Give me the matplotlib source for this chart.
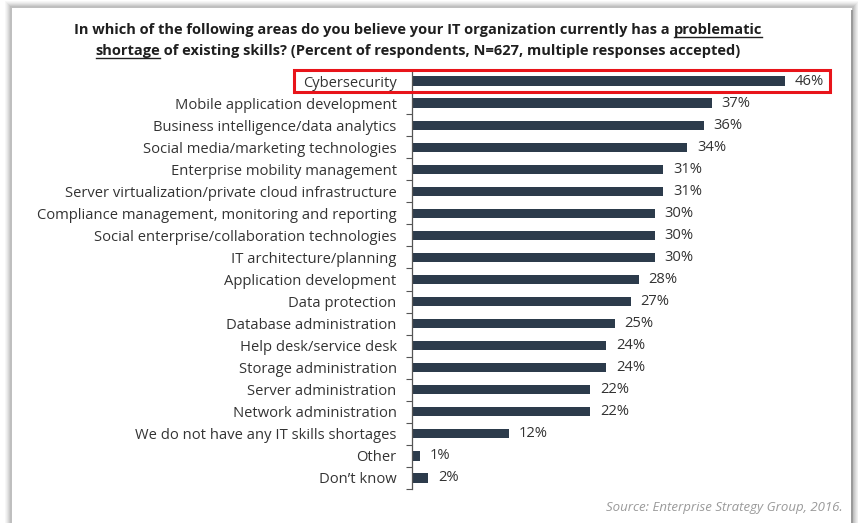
import matplotlib.pyplot as plt
from matplotlib.patches import Rectangle
from matplotlib.transforms import blended_transform_factory

categories = [
    "Cybersecurity",
    "Mobile application development",
    "Business intelligence/data analytics",
    "Social media/marketing technologies",
    "Enterprise mobility management",
    "Server virtualization/private cloud infrastructure",
    "Compliance management, monitoring and reporting",
    "Social enterprise/collaboration technologies",
    "IT architecture/planning",
    "Application development",
    "Data protection",
    "Database administration",
    "Help desk/service desk",
    "Storage administration",
    "Server administration",
    "Network administration",
    "We do not have any IT skills shortages",
    "Other",
    "Don\u2019t know",
]
percents = [46, 37, 36, 34, 31, 31, 30, 30, 30, 28, 27, 25, 24, 24, 22, 22, 12, 1, 2]

title_line1 = ["In which of the following areas do you believe your IT organization currently has a ", "problematic"]
title_line2 = ["shortage", " of existing skills? (Percent of respondents, N=627, multiple responses accepted)"]
source_note = "Source: Enterprise Strategy Group, 2016."

FONT = "Open Sans"
BAR_COLOR = "#2c3b4b"
TEXT_COLOR = "#333333"

W, H = 858, 523
fig = plt.figure(figsize=(W / 100, H / 100), dpi=100)
fig.patch.set_facecolor("white")


def px(x, y):
    # pixel position measured from the top-left corner -> figure fraction
    return x / W, 1 - y / H


# soft drop shadow and card
for i, a in enumerate([0.05, 0.06, 0.08, 0.10, 0.12, 0.14]):
    g = 7 - i
    fig.patches.append(Rectangle(px(12 - g, H), (840 + 2 * g) / W, (H - 8 + g) / H,
                                 transform=fig.transFigure, facecolor="#707070",
                                 alpha=a, edgecolor="none", zorder=0))
fig.patches.append(Rectangle(px(12, H), 840 / W, (H - 8) / H, transform=fig.transFigure,
                             facecolor="white", edgecolor="none", zorder=1))
fig.patches.append(Rectangle(px(851, H), 2 / W, (H - 10) / H, transform=fig.transFigure,
                             facecolor="#9a9a9a", edgecolor="none", zorder=1))

ax_left, ax_top, ax_bottom = 412, 70, 489
xmax = 54
px_per_unit = 8.1
ax = fig.add_axes([ax_left / W, 1 - ax_bottom / H, xmax * px_per_unit / W, (ax_bottom - ax_top) / H])
ax.set_zorder(2)
ax.patch.set_alpha(0)

y = list(range(len(categories)))
ax.barh(y, percents, height=0.42, color=BAR_COLOR)
ax.set_xlim(0, xmax)
ax.set_ylim(len(categories) - 0.5, -0.5)

ax.set_yticks(y)
ax.set_yticklabels(categories, fontsize=10.6, family=FONT, color=TEXT_COLOR)
ax.set_yticks([v + 0.5 for v in y[:-1]] + [-0.5, len(categories) - 0.5], minor=True)
ax.tick_params(axis="y", which="major", length=0, pad=11)
ax.tick_params(axis="y", which="minor", length=4, color="#555555", width=0.8)
ax.set_xticks([])
for side in ["top", "right", "bottom"]:
    ax.spines[side].set_visible(False)
ax.spines["left"].set_color("#555555")
ax.spines["left"].set_linewidth(0.9)

for yi, v in zip(y, percents):
    ax.annotate(f"{v}%", (v, yi), xytext=(7, 0), textcoords="offset points",
                va="center", ha="left", fontsize=10.6, family=FONT, color=TEXT_COLOR)

# red highlight box around the top row
trans = blended_transform_factory(fig.transFigure, ax.transData)
ax.add_patch(Rectangle((294 / W, -0.5), (830 - 294) / W, 1.0, transform=trans,
                       fill=False, edgecolor="#e8141a", linewidth=2.2, clip_on=False, zorder=5))


def draw_title_line(parts, ypix, underline_idx):
    texts = []
    for p in parts:
        texts.append(fig.text(0, 1 - ypix / H, p, fontsize=10.5, family=FONT,
                              fontweight="bold", color="#1f1f1f", va="baseline", zorder=3))
    fig.canvas.draw()
    r = fig.canvas.get_renderer()
    widths = [t.get_window_extent(r).width for t in texts]
    x = 418 - sum(widths) / 2
    for i, (t, w) in enumerate(zip(texts, widths)):
        t.set_x(x / W)
        if i == underline_idx:
            fig.add_artist(plt.Line2D([x / W, (x + w) / W], [1 - (ypix + 3) / H] * 2,
                                      color="#1f1f1f", linewidth=1.0, zorder=3))
        x += w


draw_title_line(title_line1, 34, 1)
draw_title_line(title_line2, 55, 0)

fig.text(843 / W, 1 - 507 / H, source_note, fontsize=9.5, family=FONT, style="italic",
         color="#9a9a9a", ha="right", va="center", zorder=3)

fig.savefig("out.png", dpi=100)
